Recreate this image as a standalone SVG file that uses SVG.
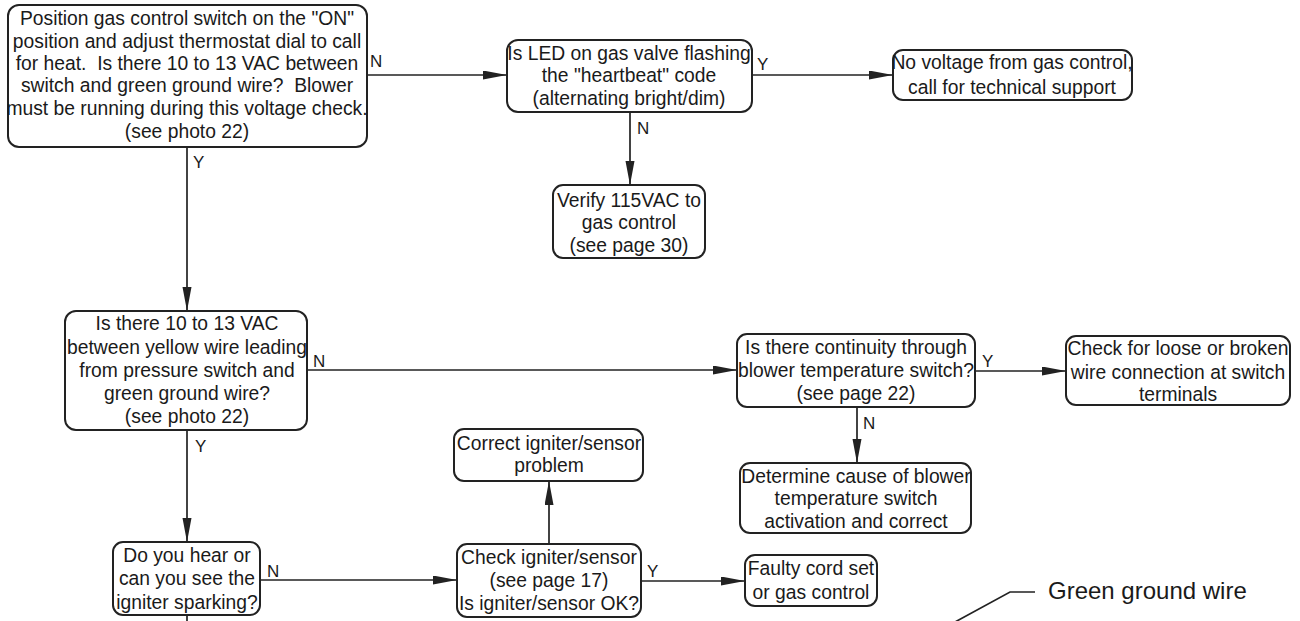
<svg xmlns="http://www.w3.org/2000/svg" width="1300" height="621" viewBox="0 0 1300 621">
<defs>
<marker id="arr" markerUnits="userSpaceOnUse" markerWidth="24" markerHeight="10" refX="24" refY="4.5" orient="auto">
<path d="M0,0 L24,4.5 L0,9 z" fill="#222"/>
</marker>
<style>
.box{fill:#fff;stroke:#222;stroke-width:2}
.t{font-family:"Liberation Sans",Arial,sans-serif;font-size:19.3px;fill:#1a1a1a;text-anchor:middle;white-space:pre}
.lbl{font-family:"Liberation Sans",Arial,sans-serif;font-size:17px;fill:#1a1a1a}
.c{fill:none;stroke:#222;stroke-width:1.7}
.a{marker-end:url(#arr)}
</style>
</defs>
<rect width="1300" height="621" fill="#fff"/>
<g id="connectors">
<path class="c a" d="M367,75 H507"/>
<path class="c a" d="M187,147 V311"/>
<path class="c a" d="M630,112 V185"/>
<path class="c a" d="M752,75 H893"/>
<path class="c a" d="M307,370 H737"/>
<path class="c a" d="M187,430 V542"/>
<path class="c" d="M187,615 V621"/>
<path class="c a" d="M260,580 H457"/>
<path class="c a" d="M549,544 V481"/>
<path class="c a" d="M641,581 H745"/>
<path class="c a" d="M975,371 H1066"/>
<path class="c a" d="M857,407 V463"/>
<text class="lbl" x="370" y="67">N</text>
<text class="lbl" x="193" y="168">Y</text>
<text class="lbl" x="637" y="134">N</text>
<text class="lbl" x="757" y="70">Y</text>
<text class="lbl" x="313" y="367">N</text>
<text class="lbl" x="195" y="452">Y</text>
<text class="lbl" x="267" y="577">N</text>
<text class="lbl" x="647" y="577">Y</text>
<text class="lbl" x="982" y="367">Y</text>
<text class="lbl" x="863" y="429">N</text>
</g>
<g id="n1">
<rect class="box" x="8" y="5" width="359" height="142" rx="11"/>
<text class="t" x="187" y="25">Position gas control switch on the "ON"</text>
<text class="t" x="187" y="48">position and adjust thermostat dial to call</text>
<text class="t" x="187" y="70" xml:space="preserve">for heat.  Is there 10 to 13 VAC between</text>
<text class="t" x="187" y="92" xml:space="preserve">switch and green ground wire?  Blower</text>
<text class="t" x="187" y="115">must be running during this voltage check.</text>
<text class="t" x="187" y="138">(see photo 22)</text>
</g>
<g id="n2">
<rect class="box" x="507" y="40" width="245" height="72" rx="11"/>
<text class="t" x="629" y="60">Is LED on gas valve flashing</text>
<text class="t" x="629" y="82">the "heartbeat" code</text>
<text class="t" x="629" y="105">(alternating bright/dim)</text>
</g>
<g id="n3">
<rect class="box" x="553" y="185" width="152" height="73" rx="10"/>
<text class="t" x="629" y="207">Verify 115VAC to</text>
<text class="t" x="629" y="229">gas control</text>
<text class="t" x="629" y="252">(see page 30)</text>
</g>
<g id="n4">
<rect class="box" x="893" y="50" width="239" height="50" rx="10"/>
<text class="t" x="1012" y="69">No voltage from gas control,</text>
<text class="t" x="1012" y="94">call for technical support</text>
</g>
<g id="n5">
<rect class="box" x="65" y="311" width="242" height="119" rx="11"/>
<text class="t" x="187" y="330">Is there 10 to 13 VAC</text>
<text class="t" x="187" y="354">between yellow wire leading</text>
<text class="t" x="187" y="377">from pressure switch and</text>
<text class="t" x="187" y="400">green ground wire?</text>
<text class="t" x="187" y="423">(see photo 22)</text>
</g>
<g id="n6">
<rect class="box" x="113" y="542" width="147" height="73" rx="10"/>
<text class="t" x="187" y="562">Do you hear or</text>
<text class="t" x="187" y="585">can you see the</text>
<text class="t" x="187" y="609">igniter sparking?</text>
</g>
<g id="n7">
<rect class="box" x="457" y="544" width="184" height="73" rx="10"/>
<text class="t" x="549" y="564">Check igniter/sensor</text>
<text class="t" x="549" y="587">(see page 17)</text>
<text class="t" x="549" y="610">Is igniter/sensor OK?</text>
</g>
<g id="n8">
<rect class="box" x="454" y="429" width="189" height="52" rx="10"/>
<text class="t" x="549" y="450">Correct igniter/sensor</text>
<text class="t" x="549" y="472">problem</text>
</g>
<g id="n9">
<rect class="box" x="745" y="555" width="132" height="51" rx="10"/>
<text class="t" x="811" y="575">Faulty cord set</text>
<text class="t" x="811" y="599">or gas control</text>
</g>
<g id="n10">
<rect class="box" x="737" y="334" width="238" height="73" rx="10"/>
<text class="t" x="856" y="354">Is there continuity through</text>
<text class="t" x="856" y="377">blower temperature switch?</text>
<text class="t" x="856" y="400">(see page 22)</text>
</g>
<g id="n11">
<rect class="box" x="1066" y="336" width="224" height="69" rx="10"/>
<text class="t" x="1178" y="355">Check for loose or broken</text>
<text class="t" x="1178" y="379">wire connection at switch</text>
<text class="t" x="1178" y="401">terminals</text>
</g>
<g id="n12">
<rect class="box" x="740" y="463" width="231" height="70" rx="10"/>
<text class="t" x="856" y="483">Determine cause of blower</text>
<text class="t" x="856" y="505">temperature switch</text>
<text class="t" x="856" y="528">activation and correct</text>
</g>
<g id="callout">
<path class="c" d="M955,622 L1010,592 H1035"/>
<text x="1048" y="599" style="font-family:'Liberation Sans',Arial,sans-serif;font-size:24px;fill:#1a1a1a">Green ground wire</text>
</g>
</svg>
